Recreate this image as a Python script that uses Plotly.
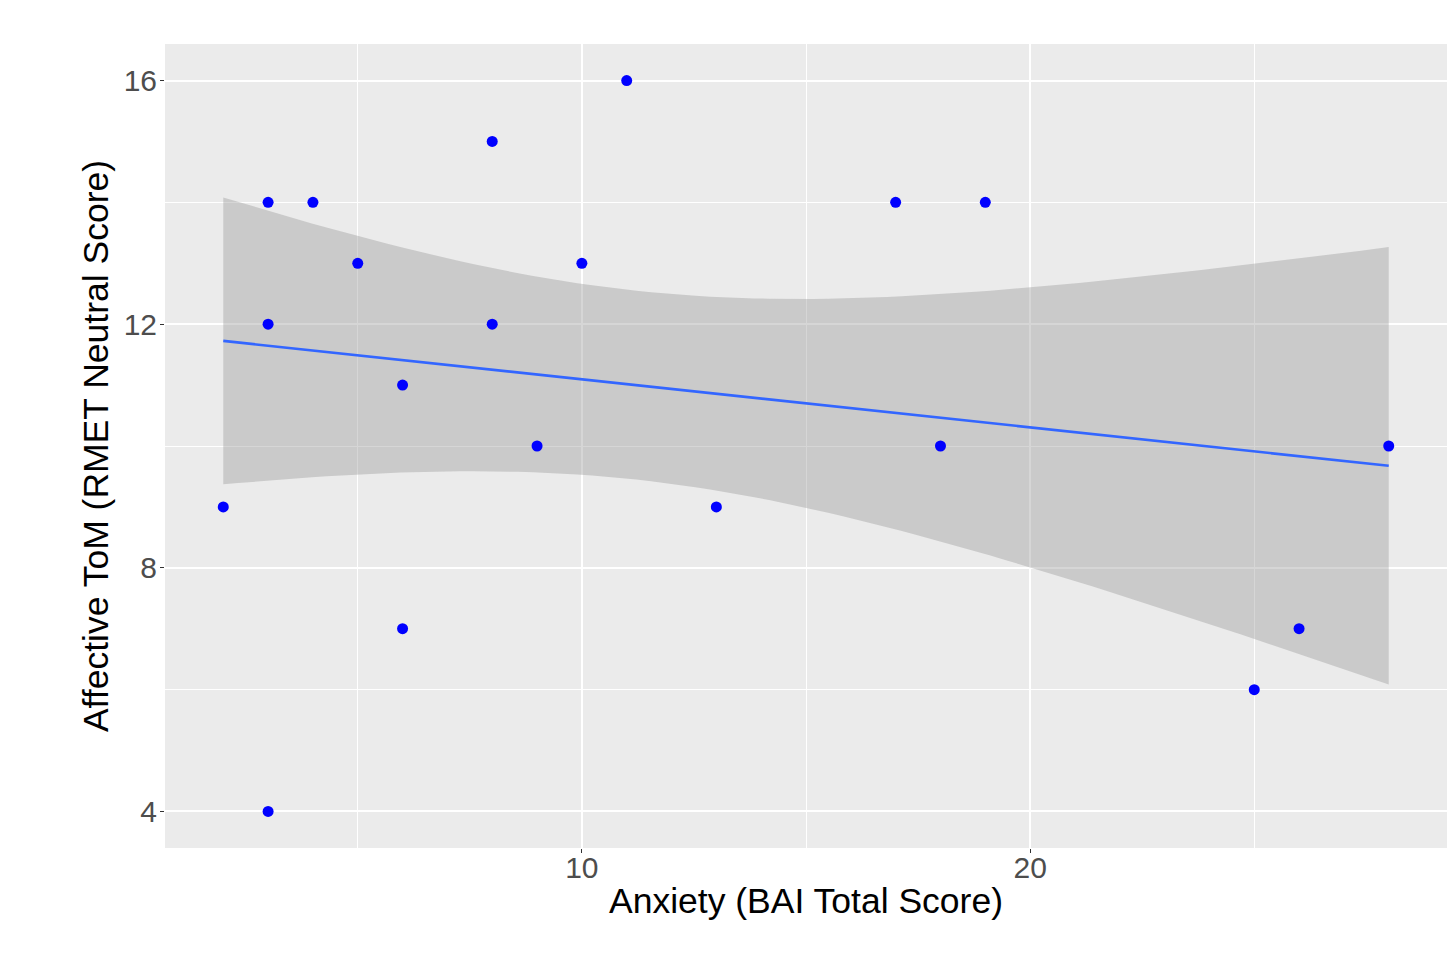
import numpy as np
import plotly.graph_objects as go

# BAI total score vs. RMET neutral score per participant
bai_score = [2, 3, 3, 3, 4, 5, 6, 6, 8, 8, 9, 10, 11, 13, 17, 18, 19, 25, 26, 28]
rmet_neutral = [9, 14, 12, 4, 14, 13, 11, 7, 15, 12, 10, 13, 16, 9, 14, 10, 14, 6, 7, 10]

x_ticks = [10, 20]
y_ticks = [4, 8, 12, 16]

# Linear fit with a 95% confidence band (t quantile, df = n - 2 = 18)
x = np.array(bai_score, dtype=float)
y = np.array(rmet_neutral, dtype=float)
n = len(x)
slope, intercept = np.polyfit(x, y, 1)
resid = y - (intercept + slope * x)
s = np.sqrt(np.sum(resid ** 2) / (n - 2))
sxx = np.sum((x - x.mean()) ** 2)
t_crit = 2.100922
grid = np.linspace(x.min(), x.max(), 80)
fit = intercept + slope * grid
se = s * np.sqrt(1.0 / n + (grid - x.mean()) ** 2 / sxx)
upper = fit + t_crit * se
lower = fit - t_crit * se

fig = go.Figure()
fig.add_trace(go.Scatter(
    x=np.concatenate([grid, grid[::-1]]),
    y=np.concatenate([upper, lower[::-1]]),
    fill="toself", fillcolor="rgba(153,153,153,0.4)",
    line=dict(width=0), mode="lines", hoverinfo="skip", showlegend=False,
))
fig.add_trace(go.Scatter(
    x=grid, y=fit, mode="lines",
    line=dict(color="#3366FF", width=2.6), showlegend=False,
))
fig.add_trace(go.Scatter(
    x=bai_score, y=rmet_neutral, mode="markers",
    marker=dict(color="#0000FF", size=11, line=dict(width=0)), showlegend=False,
))

span_x = max(bai_score) - min(bai_score)
span_y = max(rmet_neutral) - min(rmet_neutral)

FONT = "Liberation Sans, Arial, sans-serif"

axis_common = dict(
    showgrid=True, gridcolor="white", gridwidth=2,
    zeroline=False, showline=False,
    ticks="outside", ticklen=4, tickwidth=1, tickcolor="#333333",
    tickfont=dict(family=FONT, size=30, color="#4D4D4D"),
)

fig.update_xaxes(
    range=[min(bai_score) - 0.05 * span_x, max(bai_score) + 0.05 * span_x],
    tickvals=x_ticks,
    ticklabelstandoff=-11,
    minor=dict(dtick=5, tick0=0, showgrid=True, gridcolor="white", gridwidth=1, ticks=""),
    title=dict(text="Anxiety (BAI Total Score)", standoff=5,
               font=dict(family=FONT, size=35.5, color="black")),
    **axis_common,
)
fig.update_yaxes(
    range=[min(rmet_neutral) - 0.05 * span_y, max(rmet_neutral) + 0.05 * span_y],
    tickvals=y_ticks,
    ticklabelstandoff=-3,
    minor=dict(dtick=2, tick0=0, showgrid=True, gridcolor="white", gridwidth=1, ticks=""),
    title=dict(text="Affective ToM (RMET Neutral Score)", standoff=4,
               font=dict(family=FONT, size=35.5, color="black")),
    **axis_common,
)

fig.update_layout(
    width=1452, height=964,
    margin=dict(l=165, r=5, t=44, b=116),
    plot_bgcolor="#EBEBEB", paper_bgcolor="white",
    showlegend=False,
)

fig.write_html("out.html")
